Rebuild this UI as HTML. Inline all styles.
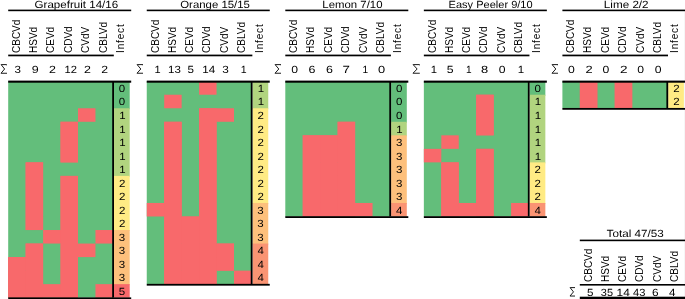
<!DOCTYPE html>
<html><head><meta charset="utf-8"><style>
html,body{margin:0;padding:0;background:#fff}
body{width:685px;height:299px;position:relative;overflow:hidden}
body>div,body>svg{position:absolute}
.g{text-rendering:geometricPrecision}
.t{left:0;top:0;transform-origin:0 0;font:10px/10px "Liberation Sans",sans-serif;color:#000;white-space:nowrap;will-change:transform}
</style></head><body>
<svg style="left:0;top:0" width="685" height="299" viewBox="0 0 685 299">
<rect x="684" y="11.2" width="1" height="287.8" fill="#f6f6f6"/>
<rect x="8.2" y="81.2" width="104.7" height="216.48" fill="#63BE7B"/>
<rect x="78" y="108.26" width="17.45" height="13.53" fill="#F8696B"/>
<rect x="60.55" y="121.79" width="17.45" height="13.53" fill="#F8696B"/>
<rect x="60.55" y="135.32" width="17.45" height="13.53" fill="#F8696B"/>
<rect x="60.55" y="148.85" width="17.45" height="13.53" fill="#F8696B"/>
<rect x="25.65" y="162.38" width="17.45" height="13.53" fill="#F8696B"/>
<rect x="25.65" y="175.91" width="17.45" height="13.53" fill="#F8696B"/>
<rect x="60.55" y="175.91" width="17.45" height="13.53" fill="#F8696B"/>
<rect x="25.65" y="189.44" width="17.45" height="13.53" fill="#F8696B"/>
<rect x="60.55" y="189.44" width="17.45" height="13.53" fill="#F8696B"/>
<rect x="25.65" y="202.97" width="17.45" height="13.53" fill="#F8696B"/>
<rect x="60.55" y="202.97" width="17.45" height="13.53" fill="#F8696B"/>
<rect x="25.65" y="216.5" width="17.45" height="13.53" fill="#F8696B"/>
<rect x="60.55" y="216.5" width="17.45" height="13.53" fill="#F8696B"/>
<rect x="43.1" y="230.03" width="34.9" height="13.53" fill="#F8696B"/>
<rect x="95.45" y="230.03" width="17.45" height="13.53" fill="#F8696B"/>
<rect x="25.65" y="243.56" width="17.45" height="13.53" fill="#F8696B"/>
<rect x="60.55" y="243.56" width="34.9" height="13.53" fill="#F8696B"/>
<rect x="8.2" y="257.09" width="34.9" height="13.53" fill="#F8696B"/>
<rect x="60.55" y="257.09" width="17.45" height="13.53" fill="#F8696B"/>
<rect x="8.2" y="270.62" width="34.9" height="13.53" fill="#F8696B"/>
<rect x="60.55" y="270.62" width="17.45" height="13.53" fill="#F8696B"/>
<rect x="8.2" y="284.15" width="69.8" height="13.53" fill="#F8696B"/>
<rect x="95.45" y="284.15" width="17.45" height="13.53" fill="#F8696B"/>
<rect x="8.2" y="257.09" width="17.45" height="40.59" fill="#F8696B"/>
<rect x="25.65" y="162.38" width="17.45" height="67.65" fill="#F8696B"/>
<rect x="25.65" y="243.56" width="17.45" height="54.12" fill="#F8696B"/>
<rect x="60.55" y="121.79" width="17.45" height="40.59" fill="#F8696B"/>
<rect x="60.55" y="175.91" width="17.45" height="121.77" fill="#F8696B"/>
<rect x="114" y="81.2" width="15.7" height="28.06" fill="#63BE7B"/>
<rect x="114" y="108.26" width="15.7" height="68.65" fill="#B1D47F"/>
<rect x="114" y="175.91" width="15.7" height="55.12" fill="#FFEB84"/>
<rect x="114" y="230.03" width="15.7" height="55.12" fill="#FDC07C"/>
<rect x="114" y="284.15" width="15.7" height="13.53" fill="#F8696B"/>
<rect x="8.2" y="9.6" width="123" height="1.6" fill="#000"/>
<rect x="8.2" y="54.6" width="105.6" height="1.7" fill="#000"/>
<rect x="8.2" y="80.6" width="123" height="2.1" fill="#000"/>
<rect x="112.2" y="81" width="1.8" height="216.68" fill="#000"/>
<rect x="8.2" y="297.38" width="123" height="1.8" fill="#000"/>
<rect x="146.75" y="81.2" width="104.7" height="202.95" fill="#63BE7B"/>
<rect x="199.1" y="81.2" width="17.45" height="13.53" fill="#F8696B"/>
<rect x="164.2" y="94.73" width="17.45" height="13.53" fill="#F8696B"/>
<rect x="199.1" y="108.26" width="34.9" height="13.53" fill="#F8696B"/>
<rect x="164.2" y="121.79" width="17.45" height="13.53" fill="#F8696B"/>
<rect x="199.1" y="121.79" width="17.45" height="13.53" fill="#F8696B"/>
<rect x="164.2" y="135.32" width="17.45" height="13.53" fill="#F8696B"/>
<rect x="199.1" y="135.32" width="17.45" height="13.53" fill="#F8696B"/>
<rect x="164.2" y="148.85" width="17.45" height="13.53" fill="#F8696B"/>
<rect x="199.1" y="148.85" width="17.45" height="13.53" fill="#F8696B"/>
<rect x="164.2" y="162.38" width="17.45" height="13.53" fill="#F8696B"/>
<rect x="199.1" y="162.38" width="17.45" height="13.53" fill="#F8696B"/>
<rect x="164.2" y="175.91" width="17.45" height="13.53" fill="#F8696B"/>
<rect x="199.1" y="175.91" width="17.45" height="13.53" fill="#F8696B"/>
<rect x="164.2" y="189.44" width="17.45" height="13.53" fill="#F8696B"/>
<rect x="199.1" y="189.44" width="17.45" height="13.53" fill="#F8696B"/>
<rect x="146.75" y="202.97" width="34.9" height="13.53" fill="#F8696B"/>
<rect x="199.1" y="202.97" width="17.45" height="13.53" fill="#F8696B"/>
<rect x="164.2" y="216.5" width="52.35" height="13.53" fill="#F8696B"/>
<rect x="164.2" y="230.03" width="52.35" height="13.53" fill="#F8696B"/>
<rect x="164.2" y="243.56" width="69.8" height="13.53" fill="#F8696B"/>
<rect x="164.2" y="257.09" width="69.8" height="13.53" fill="#F8696B"/>
<rect x="164.2" y="270.62" width="52.35" height="13.53" fill="#F8696B"/>
<rect x="234" y="270.62" width="17.45" height="13.53" fill="#F8696B"/>
<rect x="164.2" y="121.79" width="17.45" height="162.36" fill="#F8696B"/>
<rect x="181.65" y="216.5" width="17.45" height="67.65" fill="#F8696B"/>
<rect x="199.1" y="108.26" width="17.45" height="175.89" fill="#F8696B"/>
<rect x="216.55" y="243.56" width="17.45" height="27.06" fill="#F8696B"/>
<rect x="252.55" y="81.2" width="15.7" height="28.06" fill="#B1D47F"/>
<rect x="252.55" y="108.26" width="15.7" height="95.71" fill="#FFEB84"/>
<rect x="252.55" y="202.97" width="15.7" height="41.59" fill="#FDC07C"/>
<rect x="252.55" y="243.56" width="15.7" height="40.59" fill="#FA9473"/>
<rect x="146.75" y="9.6" width="123" height="1.6" fill="#000"/>
<rect x="146.75" y="54.6" width="105.6" height="1.7" fill="#000"/>
<rect x="146.75" y="80.6" width="123" height="2.1" fill="#000"/>
<rect x="250.75" y="81" width="1.8" height="203.15" fill="#000"/>
<rect x="146.75" y="283.85" width="123" height="1.8" fill="#000"/>
<rect x="285.3" y="81.2" width="104.7" height="135.3" fill="#63BE7B"/>
<rect x="337.65" y="121.79" width="17.45" height="13.53" fill="#F8696B"/>
<rect x="302.75" y="135.32" width="52.35" height="13.53" fill="#F8696B"/>
<rect x="302.75" y="148.85" width="52.35" height="13.53" fill="#F8696B"/>
<rect x="302.75" y="162.38" width="52.35" height="13.53" fill="#F8696B"/>
<rect x="302.75" y="175.91" width="52.35" height="13.53" fill="#F8696B"/>
<rect x="302.75" y="189.44" width="52.35" height="13.53" fill="#F8696B"/>
<rect x="302.75" y="202.97" width="69.8" height="13.53" fill="#F8696B"/>
<rect x="302.75" y="135.32" width="17.45" height="81.18" fill="#F8696B"/>
<rect x="320.2" y="135.32" width="17.45" height="81.18" fill="#F8696B"/>
<rect x="337.65" y="121.79" width="17.45" height="94.71" fill="#F8696B"/>
<rect x="391.1" y="81.2" width="15.7" height="41.59" fill="#63BE7B"/>
<rect x="391.1" y="121.79" width="15.7" height="14.53" fill="#B1D47F"/>
<rect x="391.1" y="135.32" width="15.7" height="68.65" fill="#FDC07C"/>
<rect x="391.1" y="202.97" width="15.7" height="13.53" fill="#FA9473"/>
<rect x="285.3" y="9.6" width="123" height="1.6" fill="#000"/>
<rect x="285.3" y="54.6" width="105.6" height="1.7" fill="#000"/>
<rect x="285.3" y="80.6" width="123" height="2.1" fill="#000"/>
<rect x="389.3" y="81" width="1.8" height="135.5" fill="#000"/>
<rect x="285.3" y="216.2" width="123" height="1.8" fill="#000"/>
<rect x="423.85" y="81.2" width="104.7" height="135.3" fill="#63BE7B"/>
<rect x="476.2" y="94.73" width="17.45" height="13.53" fill="#F8696B"/>
<rect x="476.2" y="108.26" width="17.45" height="13.53" fill="#F8696B"/>
<rect x="476.2" y="121.79" width="17.45" height="13.53" fill="#F8696B"/>
<rect x="441.3" y="135.32" width="17.45" height="13.53" fill="#F8696B"/>
<rect x="423.85" y="148.85" width="17.45" height="13.53" fill="#F8696B"/>
<rect x="476.2" y="148.85" width="17.45" height="13.53" fill="#F8696B"/>
<rect x="441.3" y="162.38" width="17.45" height="13.53" fill="#F8696B"/>
<rect x="476.2" y="162.38" width="17.45" height="13.53" fill="#F8696B"/>
<rect x="441.3" y="175.91" width="17.45" height="13.53" fill="#F8696B"/>
<rect x="476.2" y="175.91" width="17.45" height="13.53" fill="#F8696B"/>
<rect x="441.3" y="189.44" width="17.45" height="13.53" fill="#F8696B"/>
<rect x="476.2" y="189.44" width="17.45" height="13.53" fill="#F8696B"/>
<rect x="441.3" y="202.97" width="52.35" height="13.53" fill="#F8696B"/>
<rect x="511.1" y="202.97" width="17.45" height="13.53" fill="#F8696B"/>
<rect x="441.3" y="162.38" width="17.45" height="54.12" fill="#F8696B"/>
<rect x="476.2" y="94.73" width="17.45" height="40.59" fill="#F8696B"/>
<rect x="476.2" y="148.85" width="17.45" height="67.65" fill="#F8696B"/>
<rect x="529.65" y="81.2" width="15.7" height="14.53" fill="#63BE7B"/>
<rect x="529.65" y="94.73" width="15.7" height="68.65" fill="#B1D47F"/>
<rect x="529.65" y="162.38" width="15.7" height="41.59" fill="#FFEB84"/>
<rect x="529.65" y="202.97" width="15.7" height="13.53" fill="#FA9473"/>
<rect x="423.85" y="9.6" width="123" height="1.6" fill="#000"/>
<rect x="423.85" y="54.6" width="105.6" height="1.7" fill="#000"/>
<rect x="423.85" y="80.6" width="123" height="2.1" fill="#000"/>
<rect x="527.85" y="81" width="1.8" height="135.5" fill="#000"/>
<rect x="423.85" y="216.2" width="123" height="1.8" fill="#000"/>
<rect x="562.4" y="81.2" width="104.7" height="27.06" fill="#63BE7B"/>
<rect x="579.85" y="81.2" width="17.45" height="13.53" fill="#F8696B"/>
<rect x="614.75" y="81.2" width="17.45" height="13.53" fill="#F8696B"/>
<rect x="579.85" y="94.73" width="17.45" height="13.53" fill="#F8696B"/>
<rect x="614.75" y="94.73" width="17.45" height="13.53" fill="#F8696B"/>
<rect x="579.85" y="81.2" width="17.45" height="27.06" fill="#F8696B"/>
<rect x="614.75" y="81.2" width="17.45" height="27.06" fill="#F8696B"/>
<rect x="668.2" y="81.2" width="15.7" height="27.06" fill="#FFEB84"/>
<rect x="562.4" y="9.6" width="122.6" height="1.6" fill="#000"/>
<rect x="562.4" y="54.6" width="105.6" height="1.7" fill="#000"/>
<rect x="562.4" y="80.6" width="122.6" height="2.1" fill="#000"/>
<rect x="666.4" y="81" width="1.8" height="27.26" fill="#000"/>
<rect x="562.4" y="107.96" width="122.6" height="1.8" fill="#000"/>
<rect x="579.8" y="239.6" width="105.2" height="1.6" fill="#000"/>
<rect x="579.8" y="284" width="105.2" height="1.6" fill="#000"/>
<rect x="579.8" y="296.7" width="105.2" height="2.3" fill="#000"/>
</svg>
<div class="t g" style="transform:translate(118.79px,84.77px) scale(1.1500,1.0400)">0</div>
<div class="t g" style="transform:translate(118.79px,97.77px) scale(1.1500,1.0400)">0</div>
<div class="t g" style="transform:translate(119.19px,111.77px) scale(1.1500,1.0400)">1</div>
<div class="t g" style="transform:translate(119.19px,125.77px) scale(1.1500,1.0400)">1</div>
<div class="t g" style="transform:translate(119.19px,138.77px) scale(1.1500,1.0400)">1</div>
<div class="t g" style="transform:translate(119.19px,152.77px) scale(1.1500,1.0400)">1</div>
<div class="t g" style="transform:translate(119.19px,165.77px) scale(1.1500,1.0400)">1</div>
<div class="t g" style="transform:translate(118.94px,179.77px) scale(1.1500,1.0400)">2</div>
<div class="t g" style="transform:translate(118.94px,192.77px) scale(1.1500,1.0400)">2</div>
<div class="t g" style="transform:translate(118.94px,206.77px) scale(1.1500,1.0400)">2</div>
<div class="t g" style="transform:translate(118.94px,219.77px) scale(1.1500,1.0400)">2</div>
<div class="t g" style="transform:translate(118.79px,233.77px) scale(1.1500,1.0400)">3</div>
<div class="t g" style="transform:translate(118.79px,246.77px) scale(1.1500,1.0400)">3</div>
<div class="t g" style="transform:translate(118.79px,260.77px) scale(1.1500,1.0400)">3</div>
<div class="t g" style="transform:translate(118.79px,273.77px) scale(1.1500,1.0400)">3</div>
<div class="t g" style="transform:translate(118.79px,287.77px) scale(1.1500,1.0400)">5</div>
<div class="t g" style="transform:translate(34.52px,0.77px) scale(1.1579,1.0400)">Grapefruit 14/16</div>
<div class="t" style="transform:translate(12px,53px) rotate(-90deg)">CBCVd</div>
<div class="t" style="transform:translate(29px,53px) rotate(-90deg)">HSVd</div>
<div class="t" style="transform:translate(46px,53px) rotate(-90deg)">CEVd</div>
<div class="t" style="transform:translate(64px,53px) rotate(-90deg)">CDVd</div>
<div class="t" style="transform:translate(81px,53px) rotate(-90deg)">CVdV</div>
<div class="t" style="transform:translate(99px,53px) rotate(-90deg)">CBLVd</div>
<div class="t" style="transform:translate(116px,53px) rotate(-90deg);letter-spacing:0.86px">Infect</div>
<svg style="left:-0.5px;top:63.8px" width="7" height="10" viewBox="0 0 7 10"><path d="M6.7 1.3V0.6H1.1L4.62 5L1.0 9.25H7" fill="none" stroke="#1a1a1a" stroke-width="1.0" stroke-linejoin="miter"/></svg>
<div class="t g" style="transform:translate(14.62px,65.77px) scale(1.1579,1.0400)">3</div>
<div class="t g" style="transform:translate(31.78px,65.77px) scale(1.2444,1.0400)">9</div>
<div class="t g" style="transform:translate(48.98px,65.77px) scale(1.2444,1.0400)">2</div>
<div class="t g" style="transform:translate(64.46px,65.77px) scale(1.1200,1.0400)">12</div>
<div class="t g" style="transform:translate(83.98px,65.77px) scale(1.2444,1.0400)">2</div>
<div class="t g" style="transform:translate(101.29px,65.77px) scale(1.2222,1.0400)">2</div>
<div class="t g" style="transform:translate(257.74px,84.77px) scale(1.1500,1.0400)">1</div>
<div class="t g" style="transform:translate(257.74px,97.77px) scale(1.1500,1.0400)">1</div>
<div class="t g" style="transform:translate(257.49px,111.77px) scale(1.1500,1.0400)">2</div>
<div class="t g" style="transform:translate(257.49px,125.77px) scale(1.1500,1.0400)">2</div>
<div class="t g" style="transform:translate(257.49px,138.77px) scale(1.1500,1.0400)">2</div>
<div class="t g" style="transform:translate(257.49px,152.77px) scale(1.1500,1.0400)">2</div>
<div class="t g" style="transform:translate(257.49px,165.77px) scale(1.1500,1.0400)">2</div>
<div class="t g" style="transform:translate(257.49px,179.77px) scale(1.1500,1.0400)">2</div>
<div class="t g" style="transform:translate(257.49px,192.77px) scale(1.1500,1.0400)">2</div>
<div class="t g" style="transform:translate(257.34px,206.77px) scale(1.1500,1.0400)">3</div>
<div class="t g" style="transform:translate(257.34px,219.77px) scale(1.1500,1.0400)">3</div>
<div class="t g" style="transform:translate(257.34px,233.77px) scale(1.1500,1.0400)">3</div>
<div class="t g" style="transform:translate(257.49px,246.77px) scale(1.1500,1.0400)">4</div>
<div class="t g" style="transform:translate(257.49px,260.77px) scale(1.1500,1.0400)">4</div>
<div class="t g" style="transform:translate(257.49px,273.77px) scale(1.1500,1.0400)">4</div>
<div class="t g" style="transform:translate(180.23px,0.77px) scale(1.1402,1.0400)">Orange 15/15</div>
<div class="t" style="transform:translate(151px,53px) rotate(-90deg)">CBCVd</div>
<div class="t" style="transform:translate(168px,53px) rotate(-90deg)">HSVd</div>
<div class="t" style="transform:translate(185px,53px) rotate(-90deg)">CEVd</div>
<div class="t" style="transform:translate(202px,53px) rotate(-90deg)">CDVd</div>
<div class="t" style="transform:translate(220px,53px) rotate(-90deg)">CVdV</div>
<div class="t" style="transform:translate(237px,53px) rotate(-90deg)">CBLVd</div>
<div class="t" style="transform:translate(255px,53px) rotate(-90deg);letter-spacing:0.86px">Infect</div>
<svg style="left:135.6px;top:63.8px" width="7.3" height="10" viewBox="0 0 7.3 10"><path d="M7 1.3V0.6H1.1L4.82 5L1.0 9.25H7.3" fill="none" stroke="#1a1a1a" stroke-width="1.0" stroke-linejoin="miter"/></svg>
<div class="t g" style="transform:translate(154.57px,65.77px) scale(1.1059,1.0400)">1</div>
<div class="t g" style="transform:translate(168.04px,65.77px) scale(1.1500,1.0400)">13</div>
<div class="t g" style="transform:translate(187.52px,65.77px) scale(1.1579,1.0400)">5</div>
<div class="t g" style="transform:translate(202.32px,65.77px) scale(1.1700,1.0400)">14</div>
<div class="t g" style="transform:translate(222.21px,65.77px) scale(1.1789,1.0400)">3</div>
<div class="t g" style="transform:translate(240.81px,65.77px) scale(1.0588,1.0400)">1</div>
<div class="t g" style="transform:translate(395.89px,84.77px) scale(1.1500,1.0400)">0</div>
<div class="t g" style="transform:translate(395.89px,97.77px) scale(1.1500,1.0400)">0</div>
<div class="t g" style="transform:translate(395.89px,111.77px) scale(1.1500,1.0400)">0</div>
<div class="t g" style="transform:translate(396.29px,125.77px) scale(1.1500,1.0400)">1</div>
<div class="t g" style="transform:translate(395.89px,138.77px) scale(1.1500,1.0400)">3</div>
<div class="t g" style="transform:translate(395.89px,152.77px) scale(1.1500,1.0400)">3</div>
<div class="t g" style="transform:translate(395.89px,165.77px) scale(1.1500,1.0400)">3</div>
<div class="t g" style="transform:translate(395.89px,179.77px) scale(1.1500,1.0400)">3</div>
<div class="t g" style="transform:translate(395.89px,192.77px) scale(1.1500,1.0400)">3</div>
<div class="t g" style="transform:translate(396.04px,206.77px) scale(1.1500,1.0400)">4</div>
<div class="t g" style="transform:translate(322.35px,0.77px) scale(1.1382,1.0400)">Lemon 7/10</div>
<div class="t" style="transform:translate(289px,53px) rotate(-90deg)">CBCVd</div>
<div class="t" style="transform:translate(306px,53px) rotate(-90deg)">HSVd</div>
<div class="t" style="transform:translate(324px,53px) rotate(-90deg)">CEVd</div>
<div class="t" style="transform:translate(341px,53px) rotate(-90deg)">CDVd</div>
<div class="t" style="transform:translate(359px,53px) rotate(-90deg)">CVdV</div>
<div class="t" style="transform:translate(376px,53px) rotate(-90deg)">CBLVd</div>
<div class="t" style="transform:translate(393px,53px) rotate(-90deg);letter-spacing:0.86px">Infect</div>
<svg style="left:273.9px;top:63.8px" width="7.3" height="10" viewBox="0 0 7.3 10"><path d="M7 1.3V0.6H1.1L4.82 5L1.0 9.25H7.3" fill="none" stroke="#1a1a1a" stroke-width="1.0" stroke-linejoin="miter"/></svg>
<div class="t g" style="transform:translate(291.29px,65.77px) scale(1.2211,1.0400)">0</div>
<div class="t g" style="transform:translate(308.48px,65.77px) scale(1.2421,1.0400)">6</div>
<div class="t g" style="transform:translate(325.98px,65.77px) scale(1.2421,1.0400)">6</div>
<div class="t g" style="transform:translate(342.53px,65.77px) scale(1.3333,1.0400)">7</div>
<div class="t g" style="transform:translate(362.44px,65.77px) scale(1.0118,1.0400)">1</div>
<div class="t g" style="transform:translate(377.96px,65.77px) scale(1.2842,1.0400)">0</div>
<div class="t g" style="transform:translate(534.44px,84.77px) scale(1.1500,1.0400)">0</div>
<div class="t g" style="transform:translate(534.84px,97.77px) scale(1.1500,1.0400)">1</div>
<div class="t g" style="transform:translate(534.84px,111.77px) scale(1.1500,1.0400)">1</div>
<div class="t g" style="transform:translate(534.84px,125.77px) scale(1.1500,1.0400)">1</div>
<div class="t g" style="transform:translate(534.84px,138.77px) scale(1.1500,1.0400)">1</div>
<div class="t g" style="transform:translate(534.84px,152.77px) scale(1.1500,1.0400)">1</div>
<div class="t g" style="transform:translate(534.59px,165.77px) scale(1.1500,1.0400)">2</div>
<div class="t g" style="transform:translate(534.59px,179.77px) scale(1.1500,1.0400)">2</div>
<div class="t g" style="transform:translate(534.59px,192.77px) scale(1.1500,1.0400)">2</div>
<div class="t g" style="transform:translate(534.59px,206.77px) scale(1.1500,1.0400)">4</div>
<div class="t g" style="transform:translate(448.57px,0.77px) scale(1.1040,1.0400)">Easy Peeler 9/10</div>
<div class="t" style="transform:translate(428px,53px) rotate(-90deg)">CBCVd</div>
<div class="t" style="transform:translate(445px,53px) rotate(-90deg)">HSVd</div>
<div class="t" style="transform:translate(462px,53px) rotate(-90deg)">CEVd</div>
<div class="t" style="transform:translate(479px,53px) rotate(-90deg)">CDVd</div>
<div class="t" style="transform:translate(497px,53px) rotate(-90deg)">CVdV</div>
<div class="t" style="transform:translate(514px,53px) rotate(-90deg)">CBLVd</div>
<div class="t" style="transform:translate(532px,53px) rotate(-90deg);letter-spacing:0.86px">Infect</div>
<svg style="left:411.9px;top:63.8px" width="7.8" height="10" viewBox="0 0 7.8 10"><path d="M7.5 1.3V0.6H1.1L5.15 5L1.0 9.25H7.8" fill="none" stroke="#1a1a1a" stroke-width="1.0" stroke-linejoin="miter"/></svg>
<div class="t g" style="transform:translate(430.75px,65.77px) scale(1.1294,1.0400)">1</div>
<div class="t g" style="transform:translate(446.79px,65.77px) scale(1.2211,1.0400)">5</div>
<div class="t g" style="transform:translate(465.94px,65.77px) scale(1.0118,1.0400)">1</div>
<div class="t g" style="transform:translate(480.96px,65.77px) scale(1.2842,1.0400)">8</div>
<div class="t g" style="transform:translate(498.79px,65.77px) scale(1.2211,1.0400)">0</div>
<div class="t g" style="transform:translate(517.84px,65.77px) scale(1.1529,1.0400)">1</div>
<div class="t g" style="transform:translate(673.14px,84.77px) scale(1.1500,1.0400)">2</div>
<div class="t g" style="transform:translate(673.14px,97.77px) scale(1.1500,1.0400)">2</div>
<div class="t g" style="transform:translate(603.82px,0.77px) scale(1.1678,1.0400)">Lime 2/2</div>
<div class="t" style="transform:translate(566px,53px) rotate(-90deg)">CBCVd</div>
<div class="t" style="transform:translate(583px,53px) rotate(-90deg)">HSVd</div>
<div class="t" style="transform:translate(601px,53px) rotate(-90deg)">CEVd</div>
<div class="t" style="transform:translate(618px,53px) rotate(-90deg)">CDVd</div>
<div class="t" style="transform:translate(636px,53px) rotate(-90deg)">CVdV</div>
<div class="t" style="transform:translate(653px,53px) rotate(-90deg)">CBLVd</div>
<div class="t" style="transform:translate(670px,53px) rotate(-90deg);letter-spacing:0.86px">Infect</div>
<svg style="left:551px;top:63.8px" width="7.3" height="10" viewBox="0 0 7.3 10"><path d="M7 1.3V0.6H1.1L4.82 5L1.0 9.25H7.3" fill="none" stroke="#1a1a1a" stroke-width="1.0" stroke-linejoin="miter"/></svg>
<div class="t g" style="transform:translate(567.99px,65.77px) scale(1.2211,1.0400)">0</div>
<div class="t g" style="transform:translate(585.56px,65.77px) scale(1.2889,1.0400)">2</div>
<div class="t g" style="transform:translate(602.49px,65.77px) scale(1.2211,1.0400)">0</div>
<div class="t g" style="transform:translate(620.02px,65.77px) scale(1.3556,1.0400)">2</div>
<div class="t g" style="transform:translate(637.19px,65.77px) scale(1.2211,1.0400)">0</div>
<div class="t g" style="transform:translate(654.69px,65.77px) scale(1.2211,1.0400)">0</div>
<div class="t g" style="transform:translate(606.61px,229.77px) scale(1.1668,1.0400)">Total 47/53</div>
<div class="t" style="transform:translate(584px,282px) rotate(-90deg)">CBCVd</div>
<div class="t" style="transform:translate(601px,282px) rotate(-90deg)">HSVd</div>
<div class="t" style="transform:translate(618px,282px) rotate(-90deg)">CEVd</div>
<div class="t" style="transform:translate(635px,282px) rotate(-90deg)">CDVd</div>
<div class="t" style="transform:translate(653px,282px) rotate(-90deg)">CVdV</div>
<div class="t" style="transform:translate(670px,282px) rotate(-90deg)">CBLVd</div>
<svg style="left:568.5px;top:286.8px" width="6.8" height="9.8" viewBox="0 0 6.8 9.8"><path d="M6.5 1.3V0.6H1.1L4.49 4.9L1.0 9.05H6.8" fill="none" stroke="#1a1a1a" stroke-width="1.0" stroke-linejoin="miter"/></svg>
<div class="t g" style="transform:translate(587.02px,288.77px) scale(1.1579,1.0400)">5</div>
<div class="t g" style="transform:translate(600.85px,288.77px) scale(1.0927,1.0400)">35</div>
<div class="t g" style="transform:translate(616.61px,288.77px) scale(1.1900,1.0400)">14</div>
<div class="t g" style="transform:translate(633.02px,288.77px) scale(1.1143,1.0400)">43</div>
<div class="t g" style="transform:translate(652.01px,288.77px) scale(1.1789,1.0400)">6</div>
<div class="t g" style="transform:translate(668.91px,288.77px) scale(1.1600,1.0400)">4</div>
</body></html>
